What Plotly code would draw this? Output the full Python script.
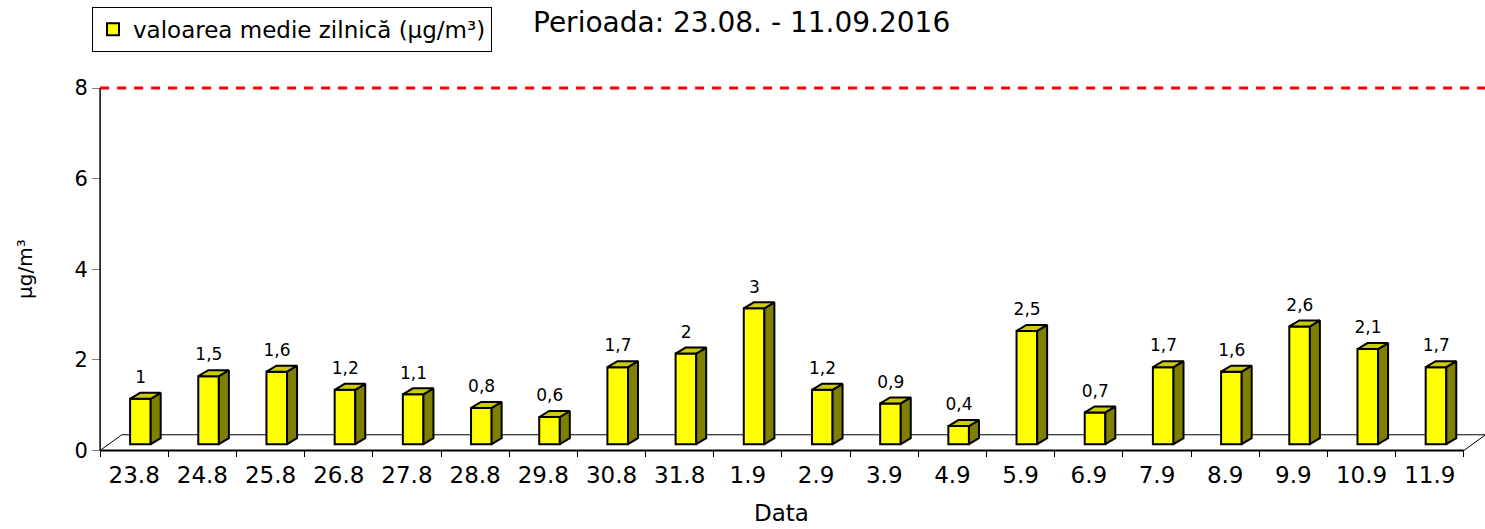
import plotly.graph_objects as go

# ---------------- data ----------------
dates = ["23.8", "24.8", "25.8", "26.8", "27.8", "28.8", "29.8", "30.8", "31.8", "1.9",
         "2.9", "3.9", "4.9", "5.9", "6.9", "7.9", "8.9", "9.9", "10.9", "11.9"]
daily_mean = [1, 1.5, 1.6, 1.2, 1.1, 0.8, 0.6, 1.7, 2, 3,
              1.2, 0.9, 0.4, 2.5, 0.7, 1.7, 1.6, 2.6, 2.1, 1.7]
limit_value = 8
y_ticks = [0, 2, 4, 6, 8]
series_name = "valoarea medie zilnică (µg/m³)"
period_text = "Perioada: 23.08. - 11.09.2016"
x_title = "Data"
y_title = "µg/m³"

# ---------------- layout geometry (pixels) ----------------
W, H = 1485, 529
ML, MR, MT, MB = 96, 0, 79, 74
X_RANGE = [-0.56, 19.81]
Y_RANGE = [-0.1, 8.2]
plot_w = W - ML - MR
plot_h = H - MT - MB
ux = plot_w / (X_RANGE[1] - X_RANGE[0])   # px per category
uy = plot_h / (Y_RANGE[1] - Y_RANGE[0])   # px per value unit


def paper_x(p):
    return (p - ML) / plot_w


def paper_y(p):
    return (H - MB - p) / plot_h


FRONT_OFF, FRONT_W, BASE_PX = 6.2, 20.6, 6.3
DEPTH_DX, DEPTH_DY = 10.0, 6.0
FLOOR_DX, FLOOR_DY = 21.7, 15.7
LABEL_DX, LABEL_GAP = 6.5, 14.0
FONT = "DejaVu Sans"

bx = FRONT_OFF / ux
bw = FRONT_W / ux
b0 = BASE_PX / uy
ddx = DEPTH_DX / ux
ddy = DEPTH_DY / uy
fdx = FLOOR_DX / ux
fdy = FLOOR_DY / uy

n = len(dates)
idx = list(range(n))
xc = [i + bx for i in idx]

side_x, side_y, top_x, top_y = [], [], [], []
for i, v in zip(idx, daily_mean):
    xl = xc[i] - bw / 2
    xr = xc[i] + bw / 2
    yt = b0 + v
    side_x += [xr, xr + ddx, xr + ddx, xr, xr, None]
    side_y += [b0, b0 + ddy, yt + ddy, yt, b0, None]
    top_x += [xl, xl + ddx, xr + ddx, xr, xl, None]
    top_y += [yt, yt + ddy, yt + ddy, yt, yt, None]

labels = [f"{v:g}".replace(".", ",") for v in daily_mean]

fig = go.Figure()
fig.add_trace(go.Scatter(x=side_x, y=side_y, mode="lines", fill="toself",
                         fillcolor="#808000", line=dict(color="black", width=2),
                         showlegend=False, hoverinfo="skip"))
fig.add_trace(go.Scatter(x=top_x, y=top_y, mode="lines", fill="toself",
                         fillcolor="#CCCC00", line=dict(color="black", width=2),
                         showlegend=False, hoverinfo="skip"))
fig.add_trace(go.Bar(x=xc, y=daily_mean, base=b0, width=bw, name=series_name,
                     marker=dict(color="#FFFF00", line=dict(color="black", width=2))))
fig.add_trace(go.Scatter(x=[i + LABEL_DX / ux for i in idx],
                         y=[b0 + v + ddy + LABEL_GAP / uy for v in daily_mean],
                         mode="text", text=labels, textposition="middle center",
                         textfont=dict(family=FONT, size=17, color="black"),
                         showlegend=False, cliponaxis=False, hoverinfo="skip"))

shapes = [
    # floor back line and side diagonals
    dict(type="line", xref="x", yref="y", x0=-0.5 + fdx, y0=fdy, x1=n - 0.5 + fdx, y1=fdy,
         line=dict(color="black", width=1), layer="below"),
    dict(type="line", xref="x", yref="y", x0=-0.5, y0=0, x1=-0.5 + fdx, y1=fdy,
         line=dict(color="black", width=1), layer="below"),
    dict(type="line", xref="x", yref="y", x0=n - 0.5, y0=0, x1=n - 0.5 + fdx, y1=fdy,
         line=dict(color="black", width=1), layer="below"),
    # front floor line (x axis)
    dict(type="line", xref="x", yref="y", x0=-0.5, y0=0, x1=n - 0.5, y1=0,
         line=dict(color="black", width=2)),
    # y axis line
    dict(type="line", xref="x", yref="y", x0=-0.5, y0=0, x1=-0.5, y1=y_ticks[-1],
         line=dict(color="black", width=1.5)),
    # limit line
    dict(type="line", xref="x", yref="y", x0=-0.5, y0=limit_value, x1=X_RANGE[1], y1=limit_value,
         line=dict(color="#FF0000", width=3, dash="9px,8px")),
]

annotations = [
    dict(text=period_text, xref="paper", yref="paper", x=paper_x(531), y=paper_y(23),
         xanchor="left", yanchor="middle", showarrow=False,
         font=dict(family=FONT, size=28, color="black")),
    dict(text=x_title, xref="paper", yref="paper", x=paper_x(781), y=paper_y(513),
         xanchor="center", yanchor="middle", showarrow=False,
         font=dict(family=FONT, size=23, color="black")),
    dict(text=y_title, xref="paper", yref="paper", x=paper_x(25), y=paper_y(269),
         xanchor="center", yanchor="middle", showarrow=False, textangle=-90,
         font=dict(family=FONT, size=20, color="black")),
]

fig.update_layout(
    width=W, height=H,
    margin=dict(l=ML, r=MR, t=MT, b=MB, autoexpand=False),
    paper_bgcolor="white", plot_bgcolor="white",
    font=dict(family=FONT, color="black"),
    shapes=shapes, annotations=annotations,
    showlegend=True,
    legend=dict(x=paper_x(92), y=paper_y(6.7), xanchor="left", yanchor="top",
                bordercolor="black", borderwidth=1, bgcolor="white",
                font=dict(family=FONT, size=23, color="black")),
    xaxis=dict(range=X_RANGE, tickvals=idx, ticktext=dates, ticks="",
               showline=False, showgrid=False, zeroline=False,
               anchor="free", position=(0 - Y_RANGE[0]) / (Y_RANGE[1] - Y_RANGE[0]),
               ticklabelstandoff=9,
               tickfont=dict(family=FONT, size=23, color="black"),
               minor=dict(tickvals=[i - 0.5 for i in range(n + 1)], ticks="outside",
                          ticklen=6, tickwidth=1, tickcolor="black")),
    yaxis=dict(range=Y_RANGE, tickvals=y_ticks, ticks="outside", ticklen=8,
               tickcolor="#808080", tickwidth=1,
               showline=False, showgrid=False, zeroline=False,
               anchor="free", position=(-0.5 - X_RANGE[0]) / (X_RANGE[1] - X_RANGE[0]),
               tickfont=dict(family=FONT, size=21, color="black")),
)

fig.write_html("out.html", config={"displayModeBar": False},
               post_script="document.body.style.margin='0';document.body.style.overflow='hidden';")
